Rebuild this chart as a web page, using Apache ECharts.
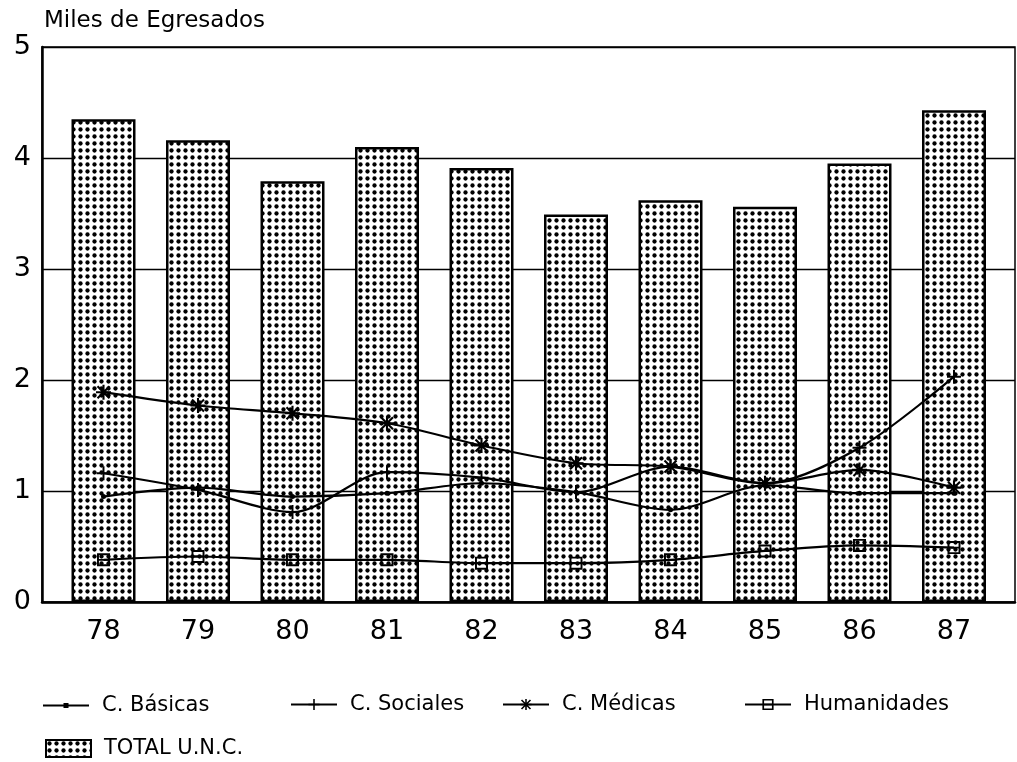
<!DOCTYPE html>
<html>
<head>
<meta charset="utf-8">
<script src="https://cdn.jsdelivr.net/npm/echarts@6/dist/echarts.min.js"></script>
<style>
html,body{margin:0;padding:0;background:#fff;}
#chart{width:1017px;height:762px;}
</style>
</head>
<body>
<div id="chart"></div>
<script>
// ---- data ----
var years = ['78','79','80','81','82','83','84','85','86','87'];
var yTicks = [0,1,2,3,4,5];
var totalUNC = [4.35,4.16,3.79,4.10,3.91,3.49,3.62,3.56,3.95,4.43];
var cBasicas = [0.95,1.03,0.95,0.98,1.07,0.99,0.83,1.05,0.98,0.98];
var cSociales = [1.16,1.01,0.81,1.17,1.12,0.99,1.22,1.07,1.39,2.03];
var cMedicas = [1.89,1.77,1.70,1.61,1.41,1.25,1.22,1.07,1.19,1.03];
var humanidades = [0.38,0.41,0.38,0.38,0.35,0.35,0.38,0.46,0.51,0.49];

// ---- dotted pattern ----
var pc = document.createElement('canvas');
pc.width = 7; pc.height = 7;
var pctx = pc.getContext('2d');
pctx.fillStyle = '#fff';
pctx.fillRect(0,0,7,7);
pctx.fillStyle = '#000';
pctx.beginPath();
pctx.arc(3.5,3.5,2.15,0,Math.PI*2);
pctx.fill();

var FONT = 'DejaVu Sans';
var plusSym = 'path://M4.3,0H5.7V10H4.3Z M0,4.3H10V5.7H0Z';
var starSym = 'path://M4.3,0H5.7V10H4.3Z M0,4.3H10V5.7H0Z M0.5,1.5L1.5,0.5L9.5,8.5L8.5,9.5Z M8.5,0.5L9.5,1.5L1.5,9.5L0.5,8.5Z';
var squareSym = 'path://M0,0H10V10H0Z M1.5,1.5V8.5H8.5V1.5Z M1.5,4.3H8.5V5.7H1.5Z';
var basIcon = 'path://M0,1.5H46V3.5H0Z M20.5,0H25.5V5H20.5Z';

function lineSeries(name, data, symbol, size){
  return {
    name: name, type: 'line', data: data, xAxisIndex: 0, yAxisIndex: 0,
    smooth: 0.3, symbol: symbol, symbolSize: size, showSymbol: true,
    lineStyle: {color:'#000', width: 2.2},
    itemStyle: {color:'#000', borderWidth: 0},
    z: 5
  };
}

function legendAt(item, left, top, w, h){
  return {
    data: [item], left: left, top: top, itemWidth: w, itemHeight: h, itemGap: 0,
    textStyle: {fontFamily: FONT, fontSize: 21, color: '#000', padding: [0,0,0,8]},
    selectedMode: false
  };
}

var chart = echarts.init(document.getElementById('chart'));
chart.setOption({
  backgroundColor: '#fff',
  animation: false,
  title: {
    text: 'Miles de Egresados', left: 39, top: 5,
    textStyle: {fontFamily: FONT, fontSize: 23, fontWeight: 'normal', color: '#000'}
  },
  legend: [
    legendAt({name: 'C. Básicas', icon: basIcon}, 38, 690, 46, 5),
    legendAt('C. Sociales', 285, 689, 46, 14),
    legendAt('C. Médicas', 497, 689, 46, 14),
    legendAt('Humanidades', 739, 689, 46, 14),
    legendAt({name: 'TOTAL U.N.C.', icon: 'rect'}, 40, 733, 45, 17)
  ],
  grid: [
    {left: 56.25, right: 15.75, top: 47, bottom: 160, containLabel: false},
    {left: 42, right: 2, top: 47, bottom: 160, show: true, borderColor: '#000', borderWidth: 1.5, backgroundColor: 'transparent'}
  ],
  xAxis: [
    {type: 'category', gridIndex: 0, data: years, boundaryGap: true,
     axisLine: {show: false}, axisTick: {show: false},
     axisLabel: {fontFamily: FONT, fontSize: 27, color: '#000', margin: 16}},
    {type: 'value', gridIndex: 1, min: 0, max: 1,
     axisLine: {show: true, lineStyle: {color: '#000', width: 2.5}},
     axisTick: {show: false}, axisLabel: {show: false}, splitLine: {show: false}}
  ],
  yAxis: [
    {type: 'value', gridIndex: 0, min: 0, max: 5, interval: 1, show: false, splitLine: {show: false}},
    {type: 'value', gridIndex: 1, min: 0, max: 5, interval: 1,
     axisLine: {show: true, lineStyle: {color: '#000', width: 2.5}},
     axisTick: {show: false},
     axisLabel: {fontFamily: FONT, fontSize: 27, color: '#000', margin: 11,
       formatter: function(v){ return yTicks.indexOf(v) >= 0 ? String(v) : ''; }},
     splitLine: {show: true, lineStyle: {color: '#000', width: 1.3}}}
  ],
  series: [
    {
      name: 'TOTAL U.N.C.', type: 'bar', data: totalUNC, xAxisIndex: 0, yAxisIndex: 0,
      barWidth: 64,
      itemStyle: {color: {image: pc, repeat: 'repeat'}, borderColor: '#000', borderWidth: 2.5},
      z: 2
    },
    lineSeries('C. Básicas', cBasicas, 'circle', 5),
    lineSeries('C. Sociales', cSociales, plusSym, 14),
    lineSeries('C. Médicas', cMedicas, starSym, 15),
    lineSeries('Humanidades', humanidades, squareSym, 13)
  ]
});
</script>
</body>
</html>
